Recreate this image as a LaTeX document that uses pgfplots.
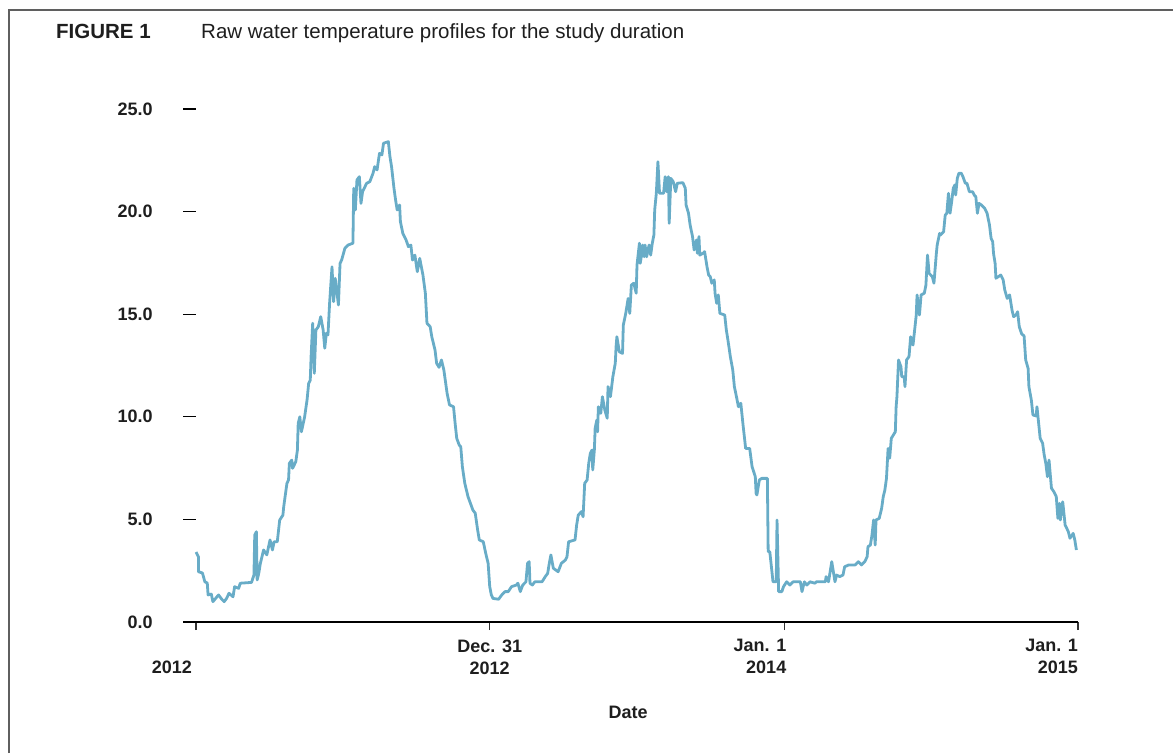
\documentclass[border=0pt]{standalone}
\usepackage{pgfplots}
\pgfplotsset{compat=1.18}
\usepackage{fontspec}
\setmainfont{Liberation Sans}
\definecolor{lineblue}{RGB}{104,172,199}
\definecolor{framegray}{RGB}{95,95,95}
\definecolor{txt}{RGB}{30,30,30}
\begin{document}
\begin{tikzpicture}[x=1pt,y=1pt]
\path[use as bounding box] (0,0) rectangle (1173,753);
\draw[framegray, line width=2pt] (9,0) -- (9,743) -- (1173,743);
\node[anchor=base west, font=\fontsize{20.5}{24}\selectfont\bfseries, inner sep=0, text=txt] at (56,714) {FIGURE 1};
\node[anchor=base west, font=\fontsize{20.5}{24}\selectfont, inner sep=0, text=txt] at (201,714) {Raw water temperature profiles for the study duration};
\begin{axis}[
  at={(196pt,131pt)}, anchor=south west,
  width=882pt, height=513pt, scale only axis,
  xmin=0, xmax=1096, ymin=0, ymax=25,
  axis x line=bottom, axis y line=left,
  x axis line style={-, line width=2.6pt, black},
  y axis line style={draw=none},
  xtick={0,365,731,1096},
  ytick={0,5,10,15,20,25},
  tick align=outside,
  xtick style={black!80, line width=1.2pt, /pgfplots/major tick length=8pt},
  ytick style={black, line width=1.2pt, /pgfplots/major tick length=13pt},
  /pgf/number format/assume math mode=true,
  yticklabel={\pgfmathprintnumber[fixed,fixed zerofill,precision=1]{\tick}},
  yticklabel style={font=\fontsize{18}{22}\selectfont\bfseries, text=txt, anchor=east, inner sep=0pt, xshift=-39pt},
  xticklabels={{\vphantom{Jan. 1}\\\makebox[0pt][r]{2012\hspace*{4pt}}},{Dec. 31\\2012},{\makebox[0pt][r]{Jan. 1\hspace*{-2pt}}\\\makebox[0pt][r]{2014\hspace*{-2pt}}},{\makebox[0pt][r]{Jan. 1}\\\makebox[0pt][r]{2015}}},
  xticklabel style={font=\fontsize{18}{22}\selectfont\bfseries, text=txt, align=center, anchor=north, inner sep=0pt, yshift=-13pt},
  xlabel={Date},
  xlabel style={at={(axis description cs:0.49,0)}, anchor=center, yshift=-90.5pt, font=\fontsize{18}{22}\selectfont\bfseries, text=txt, inner sep=0pt},
  clip=false,
]
\addplot[lineblue, line width=2.8pt, line join=round] coordinates {
(0,3.41)(3,3.18)(3,2.45)(8,2.39)(11,1.96)(14,1.90)(15,1.32)(19,1.36)(21,0.99)(28,1.32)(32,1.11)(35,0.99)(38,1.15)(41,1.40)(46,1.23)(48,1.72)(53,1.64)(55,1.89)(69,1.93)(72,2.29)(73,4.24)(75,4.40)(76,2.05)(78,2.37)(80,2.86)(84,3.51)(88,3.27)(92,4.00)(95,3.51)(97,3.91)(101,3.91)(104,4.97)(108,5.21)(109,5.62)(111,6.19)(113,6.76)(115,6.92)(116,7.73)(119,7.89)(120,7.49)(124,7.81)(126,8.38)(127,9.68)(129,10.0)(131,9.27)(135,10.0)(138,10.82)(140,11.63)(142,11.79)(143,12.93)(145,14.56)(147,12.12)(149,14.23)(152,14.39)(155,14.88)(158,14.23)(160,13.34)(162,14.07)(164,13.99)(166,15.53)(169,17.31)(171,15.61)(173,16.75)(177,15.45)(179,17.48)
(181,17.64)(185,18.21)(189,18.37)(195,18.46)(196,21.14)(198,20.08)(200,21.54)(203,21.70)(205,20.40)(207,20.97)(212,21.38)(216,21.46)(220,21.87)(222,22.19)(225,22.03)(228,22.84)(231,22.76)(233,23.33)(239,23.41)(241,22.68)(243,22.19)(246,21.14)(248,20.57)(250,20.08)(253,20.32)(254,19.51)(257,18.94)(261,18.62)(264,18.29)(267,18.37)(269,17.64)(272,17.88)(275,17.07)(278,17.72)(282,16.91)(285,16.02)(287,14.56)(291,14.39)(293,13.90)(297,13.26)(299,12.61)(302,12.41)(305,12.77)(308,12.28)(312,11.15)(315,10.58)(320,10.49)(322,9.68)(324,8.95)(327,8.63)(329,8.54)(331,7.57)(334,6.76)(338,6.11)(344,5.46)(347,5.30)(350,4.48)(352,4.00)(357,3.91)(360,3.35)(363,2.86)(365,1.72)
(367,1.32)(369,1.15)(376,1.11)(380,1.32)(384,1.48)(388,1.48)(392,1.72)(398,1.80)(400,1.89)(403,1.48)(406,1.80)(410,1.96)(412,2.86)(414,2.94)(415,1.89)(418,1.80)(421,1.96)(430,1.96)(434,2.21)(437,2.37)(439,2.86)(441,3.27)(444,2.62)(450,2.45)(454,2.86)(459,3.02)(461,3.18)(463,3.91)(471,4.00)(473,4.73)(475,5.21)(479,5.38)(481,5.13)(483,6.76)(486,6.92)(488,7.73)(490,8.22)(492,8.38)(493,7.41)(495,8.38)(496,9.44)(498,9.84)(499,9.27)(500,10.49)(503,10.17)(505,10.98)(508,10.33)(511,9.93)(512,11.47)(515,10.98)(518,11.95)(521,12.61)(522,13.42)(523,13.90)(526,13.17)(530,13.09)(531,14.47)(534,15.04)(537,15.77)(539,15.04)(541,16.42)(544,16.51)(547,16.02)(548,17.40)(551,18.46)
(552,17.48)(554,17.97)(555,18.37)(557,17.80)(558,18.37)(560,17.80)(563,18.37)(565,17.88)(567,18.46)(569,18.86)(570,20.08)(572,20.89)(574,22.43)(576,20.89)(581,20.89)(583,21.70)(585,20.97)(587,21.70)(588,19.43)(590,21.62)(593,21.46)(596,20.97)(598,21.38)(605,21.41)(608,21.14)(609,20.32)(612,19.92)(614,19.35)(617,18.78)(619,18.13)(622,18.62)(623,17.97)(625,18.78)(626,17.88)(630,17.97)(632,18.05)(635,17.31)(637,16.91)(639,16.83)(641,16.51)(644,16.67)(645,16.02)(647,15.53)(649,15.94)(651,15.04)(657,14.96)(659,14.23)(661,13.74)(664,12.93)(667,12.28)(669,11.47)(672,10.90)(674,10.49)(677,10.66)(680,9.52)(683,8.46)(688,8.46)(691,7.57)(695,7.08)(696,6.27)(697,6.19)(700,6.92)(703,7.00)(710,7.00)(711,3.43)(713,3.43)(717,1.96)(721,1.96)(722,4.97)(724,1.48)(728,1.48)(730,1.72)(734,1.96)(738,1.80)
(742,1.96)(751,1.96)(753,1.48)(756,1.96)(759,1.80)(763,1.96)(769,1.89)(771,1.96)(782,1.96)(783,2.21)(786,1.96)(790,2.94)(794,1.96)(796,2.29)(800,2.21)(804,2.29)(806,2.69)(811,2.78)(819,2.78)(823,2.94)(827,2.78)(831,2.94)(834,3.18)(835,3.67)(838,3.75)(840,4.24)(842,4.97)(844,3.75)(845,4.97)(849,5.05)(852,5.54)(854,6.11)(856,6.43)(858,7.00)(860,8.46)(862,7.98)(864,8.95)(869,9.27)(870,10.49)(871,10.98)(873,12.77)(876,12.44)(877,11.95)(880,11.95)(881,11.47)(883,12.77)(886,12.93)(888,13.90)(891,13.50)(895,14.96)(896,15.94)(899,14.96)(901,15.94)(905,16.02)(907,16.42)(909,17.88)(911,16.99)(915,16.83)(917,16.51)(920,17.97)(921,18.37)(924,18.94)
(925,18.86)(929,19.02)(931,19.83)(933,19.92)(935,20.89)(937,19.92)(939,20.48)(941,21.14)(943,21.30)(944,20.81)(946,21.62)(948,21.87)(951,21.87)(953,21.70)(956,21.38)(958,21.38)(961,20.97)(965,20.97)(967,20.81)(969,20.73)(971,19.92)(973,20.40)(976,20.32)(980,20.16)(983,19.92)(986,19.35)(988,18.70)(990,18.53)(991,17.97)(993,17.48)(994,16.75)(997,16.83)(1000,16.91)(1003,16.67)(1005,16.18)(1008,15.77)(1011,15.94)(1014,15.20)(1016,14.88)(1019,14.96)(1021,15.12)(1023,14.39)(1026,14.04)(1029,13.94)(1031,12.77)(1034,12.36)(1035,11.47)(1038,10.82)(1040,10.09)(1044,10.04)(1045,10.49)(1049,8.95)(1052,8.71)(1054,8.14)(1056,7.73)(1058,7.08)(1060,7.89)(1063,6.52)(1066,6.35)(1069,6.11)(1071,5.05)(1073,5.78)(1074,4.97)(1077,5.86)(1080,4.73)(1084,4.40)(1086,4.08)(1090,4.32)(1092,4.00)(1094,3.51)
};
\end{axis}
\end{tikzpicture}
\end{document}
